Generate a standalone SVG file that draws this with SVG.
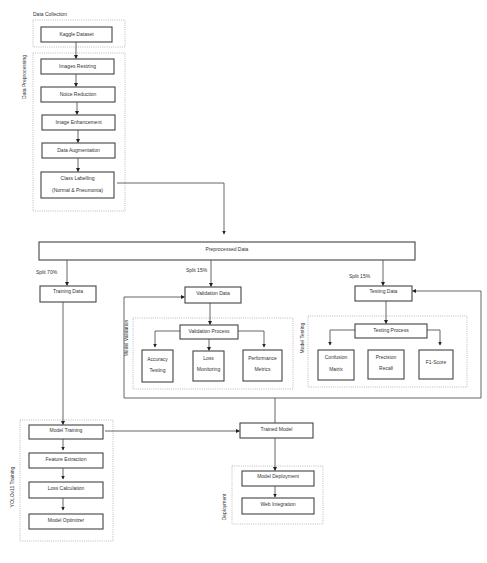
<svg xmlns="http://www.w3.org/2000/svg" width="487" height="563" viewBox="0 0 487 563">
<style>
text{font-family:"Liberation Sans",Arial,sans-serif;font-size:5px;fill:#333;text-anchor:middle;dominant-baseline:middle}
.lbl{text-anchor:start}
.box{fill:#fff;stroke:#444;stroke-width:1.1}
.grp{fill:none;stroke:#aaa;stroke-width:0.8;stroke-dasharray:1 1.2}
.ln{fill:none;stroke:#555;stroke-width:0.9}
</style>
<defs>
<marker id="ah" markerWidth="4" markerHeight="4" refX="3.5" refY="2" orient="auto" markerUnits="userSpaceOnUse">
<path d="M0,0 L4,2 L0,4 Z" fill="#222"/>
</marker>
</defs>
<rect width="487" height="563" fill="#fff"/>

<g id="groups">
<rect class="grp" x="33" y="20" width="92" height="27"/>
<text class="lbl" x="33" y="15">Data Collection</text>
<rect class="grp" x="33" y="53" width="92" height="158"/>
<text transform="translate(25,77) rotate(-90)">Data Preprocessing</text>
<rect class="grp" x="133" y="318" width="160" height="71"/>
<text transform="translate(127,338) rotate(-90)">Model Validation</text>
<rect class="grp" x="308" y="316" width="159" height="71"/>
<text transform="translate(303,338) rotate(-90)">Model Testing</text>
<rect class="grp" x="20" y="420" width="93" height="121"/>
<text transform="translate(13,487) rotate(-90)">YOLOv11 Training</text>
<rect class="grp" x="232" y="466" width="91" height="58"/>
<text transform="translate(225,507) rotate(-90)">Deployment</text>
</g>

<g id="connectors">
<line class="ln" x1="76" y1="42" x2="76" y2="58.5" marker-end="url(#ah)"/>
<line class="ln" x1="76" y1="74" x2="76" y2="86.5" marker-end="url(#ah)"/>
<line class="ln" x1="77" y1="102" x2="77" y2="114.5" marker-end="url(#ah)"/>
<line class="ln" x1="78" y1="130" x2="78" y2="142.5" marker-end="url(#ah)"/>
<line class="ln" x1="78" y1="158" x2="78" y2="171.5" marker-end="url(#ah)"/>
<polyline class="ln" points="117,183 224,183 224,234" marker-end="url(#ah)"/>
<line class="ln" x1="67" y1="260" x2="67" y2="285.5" marker-end="url(#ah)"/>
<text class="lbl" x="36" y="273">Split 70%</text>
<line class="ln" x1="211" y1="260" x2="211" y2="286.5" marker-end="url(#ah)"/>
<text class="lbl" x="186" y="271">Split 15%</text>
<line class="ln" x1="383" y1="260" x2="383" y2="285.5" marker-end="url(#ah)"/>
<text class="lbl" x="349" y="277">Split 15%</text>
<polyline class="ln" points="124,398 124,297 184.5,297" marker-end="url(#ah)"/>
<polyline class="ln" points="124,398 481,398 481,291 412.5,291" marker-end="url(#ah)"/>
<line class="ln" x1="275" y1="398" x2="275" y2="423"/>
<line class="ln" x1="210" y1="302" x2="210" y2="324.5" marker-end="url(#ah)"/>
<polyline class="ln" points="180,331 155,331 155,347" marker-end="url(#ah)"/>
<line class="ln" x1="209" y1="339" x2="209" y2="350.5" marker-end="url(#ah)"/>
<polyline class="ln" points="238,331 264,331 264,347" marker-end="url(#ah)"/>
<line class="ln" x1="386" y1="301" x2="386" y2="323.5" marker-end="url(#ah)"/>
<polyline class="ln" points="355,330 330,330 330,345" marker-end="url(#ah)"/>
<polyline class="ln" points="427,330 440,330 440,345" marker-end="url(#ah)"/>
<line class="ln" x1="63" y1="302" x2="63" y2="424.5" marker-end="url(#ah)"/>
<line class="ln" x1="63" y1="439" x2="63" y2="450" marker-end="url(#ah)"/>
<line class="ln" x1="63" y1="468" x2="63" y2="479" marker-end="url(#ah)"/>
<line class="ln" x1="63" y1="498" x2="63" y2="510" marker-end="url(#ah)"/>
<line class="ln" x1="105" y1="431" x2="239.5" y2="431" marker-end="url(#ah)"/>
<line class="ln" x1="275" y1="438" x2="275" y2="470.5" marker-end="url(#ah)"/>
<line class="ln" x1="275" y1="486" x2="275" y2="497" marker-end="url(#ah)"/>
</g>

<g id="kaggle"><rect class="box" x="41" y="27" width="71" height="15"/><text x="76.5" y="34.5">Kaggle Dataset</text></g>
<g id="resize"><rect class="box" x="41" y="59" width="73" height="15"/><text x="77.5" y="66.5">Images Resizing</text></g>
<g id="noise"><rect class="box" x="41" y="87" width="74" height="15"/><text x="78" y="94.5">Noice Reduction</text></g>
<g id="enhance"><rect class="box" x="42" y="115" width="73" height="15"/><text x="78.5" y="122.5">Image Enhancement</text></g>
<g id="augment"><rect class="box" x="42" y="143" width="73" height="15"/><text x="78.5" y="150.5">Data Augmentation</text></g>
<g id="label"><rect class="box" x="41" y="172" width="73" height="26"/><text x="77.5" y="179">Class Labelling</text><text x="77.5" y="191">(Normal &amp; Pneumonia)</text></g>
<g id="preprocessed"><rect class="box" x="39" y="242" width="376" height="18"/><text x="227" y="249.5">Preprocessed Data</text></g>
<g id="training"><rect class="box" x="40" y="286" width="56" height="16"/><text x="68" y="292">Training Data</text></g>
<g id="validation"><rect class="box" x="185" y="287" width="56" height="16"/><text x="213" y="293.5">Validation Data</text></g>
<g id="testing"><rect class="box" x="355" y="286" width="57" height="15"/><text x="383.5" y="292">Testing Data</text></g>
<g id="valproc"><rect class="box" x="180" y="325" width="58" height="14"/><text x="209" y="331.5">Validation Process</text></g>
<g id="accuracy"><rect class="box" x="142" y="350" width="31" height="32"/><text x="157.5" y="360">Accuracy</text><text x="157.5" y="370.5">Testing</text></g>
<g id="loss"><rect class="box" x="193" y="351" width="31" height="30"/><text x="208.5" y="359">Loss</text><text x="208.5" y="370">Monitoring</text></g>
<g id="perf"><rect class="box" x="243" y="350" width="39" height="31"/><text x="262.5" y="359">Performance</text><text x="262.5" y="370">Metrics</text></g>
<g id="testproc"><rect class="box" x="355" y="324" width="72" height="14"/><text x="391" y="330.5">Testing Process</text></g>
<g id="confusion"><rect class="box" x="318" y="350" width="36" height="30"/><text x="336" y="357.5">Confusion</text><text x="336" y="369.5">Matrix</text></g>
<g id="precision"><rect class="box" x="368" y="350" width="36" height="29"/><text x="386" y="357.5">Precision</text><text x="386" y="369">Recall</text></g>
<g id="f1"><rect class="box" x="419" y="350" width="34" height="29"/><text x="436" y="363">F1-Score</text></g>
<g id="modeltraining"><rect class="box" x="29" y="425" width="74" height="14"/><text x="66" y="431">Model Training</text></g>
<g id="feature"><rect class="box" x="29" y="453" width="74" height="15"/><text x="66" y="459.5">Feature Extraction</text></g>
<g id="losscalc"><rect class="box" x="29" y="482" width="74" height="16"/><text x="66" y="489">Loss Calculation</text></g>
<g id="optimizer"><rect class="box" x="29" y="514" width="74" height="15"/><text x="66" y="520.5">Model Optimizer</text></g>
<g id="trained"><rect class="box" x="240" y="423" width="73" height="15"/><text x="276.5" y="429.5">Trained Model</text></g>
<g id="deploy"><rect class="box" x="242" y="471" width="72" height="15"/><text x="278" y="477">Model Deployment</text></g>
<g id="web"><rect class="box" x="242" y="498" width="72" height="16"/><text x="278" y="505">Web Integration</text></g>
</svg>
